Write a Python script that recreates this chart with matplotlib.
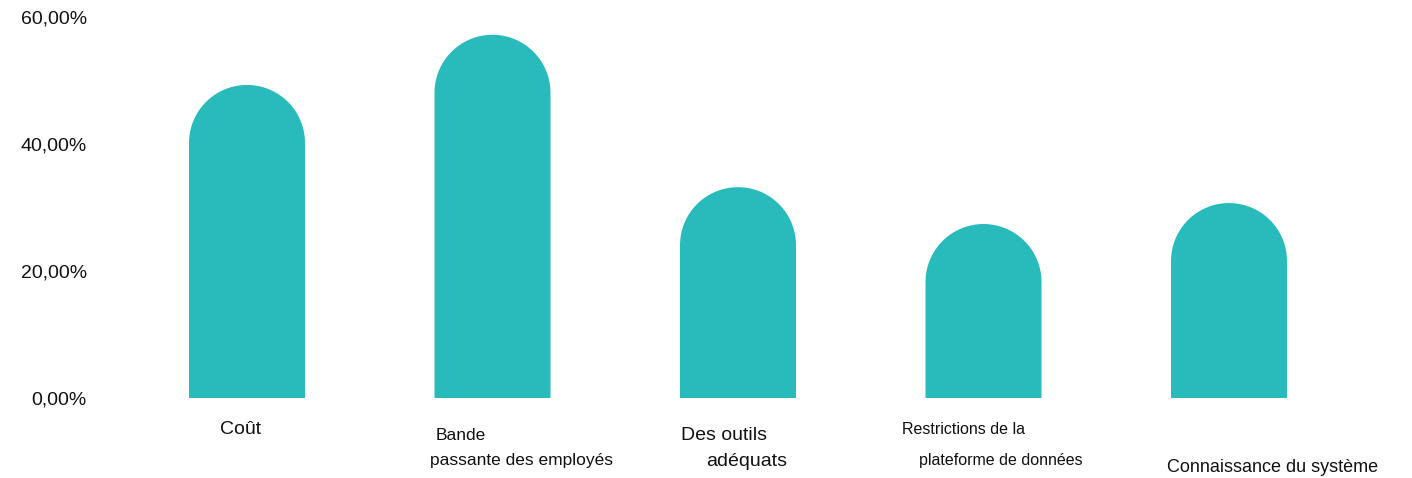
import numpy as np
from matplotlib import pyplot as plt
from matplotlib.patches import Polygon

categories = ["Coût", "Bande passante des employés", "Des outils adéquats",
              "Restrictions de la plateforme de données", "Connaissance du système"]
values = [49.3, 57.2, 33.2, 27.4, 30.7]
yticks = [0, 20, 40, 60]
ytick_labels = ["0,00%", "20,00%", "40,00%", "60,00%"]

W, H = 1412, 478
plt.rcParams['font.family'] = ['Liberation Sans', 'DejaVu Sans']
fig = plt.figure(figsize=(W / 100, H / 100), dpi=100)

# axes placed in pixels: x centres at 247 .. 1229, y 0 at 398, 60 at 17 (from top)
left_px, right_px = 124.25, 1351.75
bottom_px, top_px = 398, 17
ax = fig.add_axes([left_px / W, (H - bottom_px) / H,
                   (right_px - left_px) / W, (bottom_px - top_px) / H])
ax.set_xlim(-0.5, len(values) - 0.5)
ax.set_ylim(0, 60)

color = "#29BBBB"
bw = 0.4725
rx = bw / 2
px_per_x = (right_px - left_px) / len(values)
px_per_y = (bottom_px - top_px) / 60
ry = rx * px_per_x / px_per_y
t = np.linspace(np.pi, 0, 60)
for i, v in enumerate(values):
    base = v - ry
    pts = [(i - rx, 0), (i - rx, base)]
    pts += list(zip(i + rx * np.cos(t), base + ry * np.sin(t)))
    pts += [(i + rx, base), (i + rx, 0)]
    ax.add_patch(Polygon(pts, closed=True, facecolor=color, edgecolor="none"))

ax.set_yticks(yticks)
ax.set_yticklabels(ytick_labels, fontsize=14, color="#111111")
ax.tick_params(axis='y', length=0, pad=27)
ax.set_xticks([])
for s in ax.spines.values():
    s.set_visible(False)

# category labels, placed loosely like the original
labels = [
    ("Coût", 220, 430, 14),
    ("Bande", 436, 436, 12.5),
    ("passante des employés", 430, 461, 12.5),
    ("Des outils", 681, 435, 14),
    ("adéquats", 706, 461, 14),
    ("Restrictions de la", 902, 429, 11.5),
    ("plateforme de données", 919, 461, 11.5),
    ("Connaissance du système", 1167, 467, 13),
]
for txt, x, y, fs in labels:
    fig.text(x / W, 1 - y / H, txt, fontsize=fs, ha='left', va='center', color="#111111")

fig.savefig("out.png", dpi=100)
